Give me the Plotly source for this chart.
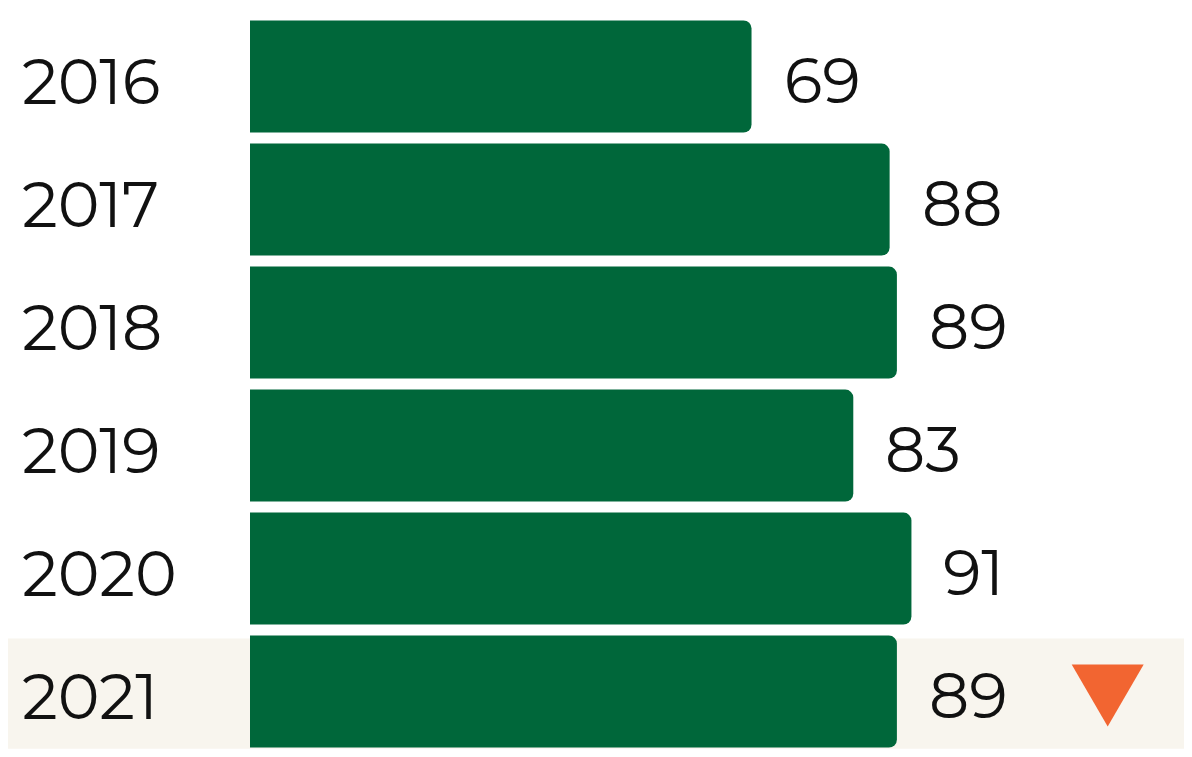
import plotly.graph_objects as go

# Données
years = ["2016", "2017", "2018", "2019", "2020", "2021"]
values = [69, 88, 89, 83, 91, 89]
highlight_year = "2021"
trend_marker_x = 118  # position de l'indicateur de tendance (axe des valeurs)

GREEN = "#00673A"
BAND = "#F8F5EE"
ORANGE = "#F26531"
FONT = "Montserrat, Open Sans, sans-serif"

fig = go.Figure(go.Bar(
    x=values,
    y=years,
    orientation="h",
    marker=dict(color=GREEN, cornerradius=8, line=dict(width=0)),
    hoverinfo="skip",
))

# bande de mise en évidence pour l'année courante
hi = years.index(highlight_year)
fig.add_shape(
    type="rect", xref="paper", yref="y",
    x0=-0.2568, x1=0.9832, y0=hi - 0.43, y1=hi + 0.465,
    fillcolor=BAND, line=dict(width=0), layer="below",
)

# étiquettes des années (alignées à gauche) ; position = index de la catégorie
for i, y in enumerate(years):
    fig.add_annotation(
        x=0, xref="paper", y=i, yref="y",
        text=y, showarrow=False, xanchor="left", xshift=-230, yshift=-5,
        font=dict(family=FONT, size=63, color="#111111"),
    )

# étiquettes des valeurs
for i, v in enumerate(values):
    fig.add_annotation(
        x=v, xref="x", y=i, yref="y",
        text=str(v), showarrow=False, xanchor="left", xshift=30, yshift=-4,
        font=dict(family=FONT, size=63, color="#111111"),
    )

# indicateur de baisse
fig.add_shape(
    type="path", xref="x", yref="y",
    xsizemode="pixel", ysizemode="pixel",
    xanchor=trend_marker_x, yanchor=hi,
    path="M -36 27 L 36 27 L 0 -35 Z",
    fillcolor=ORANGE, line=dict(width=0),
)

fig.update_layout(
    width=1192, height=757,
    margin=dict(l=242, r=0, t=7, b=12),
    paper_bgcolor="white", plot_bgcolor="rgba(0,0,0,0)",
    bargap=0.09,
    showlegend=False,
    xaxis=dict(range=[0, 130.7], visible=False, fixedrange=True),
    yaxis=dict(type="category", categoryorder="array", categoryarray=years,
               range=[len(years) - 0.5, -0.5], showticklabels=False,
               showgrid=False, zeroline=False, fixedrange=True),
)

fig.write_html("out.html")
